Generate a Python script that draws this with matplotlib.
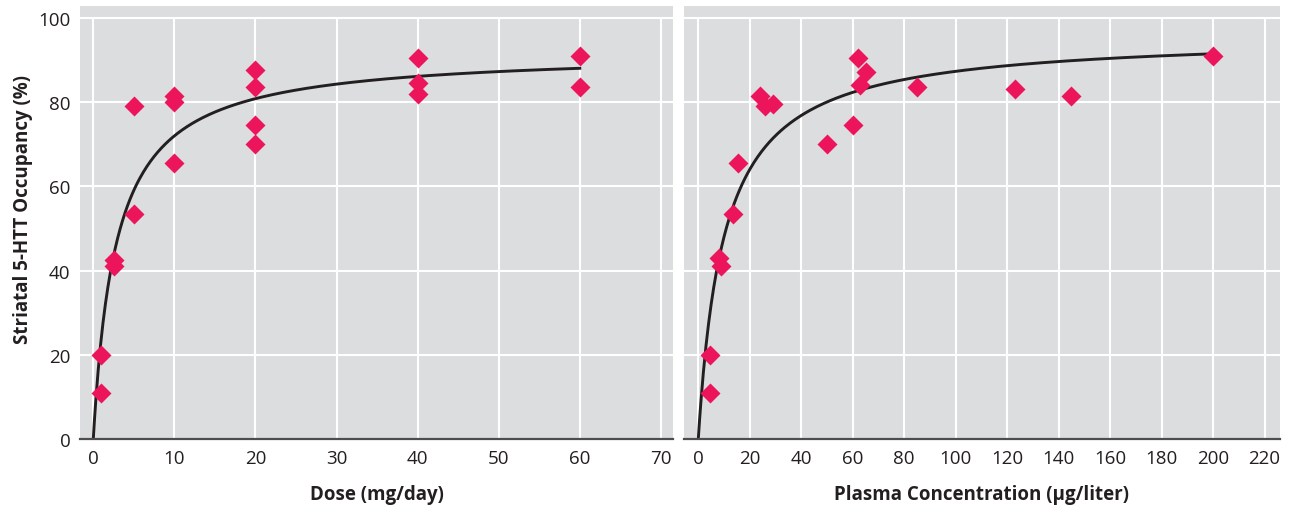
import numpy as np
import matplotlib
matplotlib.use("Agg")
from matplotlib import pyplot as plt

plt.rcParams["font.family"] = ["Open Sans", "DejaVu Sans"]

# left panel: dose vs occupancy
dose = [1, 1, 2.5, 2.5, 5, 5, 10, 10, 10, 20, 20, 20, 20, 40, 40, 40, 60, 60]
dose_occ = [20, 11, 42.5, 41, 79, 53.5, 81.5, 80, 65.5, 87.5, 83.5, 74.5, 70,
            90.5, 84.5, 82, 91, 83.5]
# right panel: plasma concentration vs occupancy
plasma = [4.5, 4.5, 8, 9, 13.5, 15.5, 24, 26, 29, 50, 60, 62, 65, 63, 85,
          123, 145, 200]
plasma_occ = [20, 11, 43, 41, 53.5, 65.5, 81.5, 79, 79.5, 70, 74.5, 90.5, 87,
              84, 83.5, 83, 81.5, 91]

# Emax model fits
dose_emax, dose_ed50, dose_max = 92.1, 2.8, 60
plasma_emax, plasma_ec50, plasma_max = 96.0, 10.0, 200

dose_ticks = [0, 10, 20, 30, 40, 50, 60, 70]
plasma_ticks = [0, 20, 40, 60, 80, 100, 120, 140, 160, 180, 200, 220]
occ_ticks = [0, 20, 40, 60, 80, 100]

bg = "#dcdddf"
pink = "#ec145a"
ink = "#231f20"

fig = plt.figure(figsize=(12.92, 5.06), dpi=100)
ax1 = fig.add_axes([0.0619, 0.130, 0.459, 0.856])
ax2 = fig.add_axes([0.5294, 0.130, 0.4613, 0.856])


def panel(ax, x, y, emax, ec50, xmax, xticks, xlim, xlabel, show_y):
    ax.set_facecolor(bg)
    ax.set_xlim(xlim)
    ax.set_ylim(0, 102.75)
    for t in occ_ticks[1:]:
        ax.axhline(t, color="white", lw=1.5, zorder=1)
    ax.vlines(xticks, 0, 100, color="white", lw=1.5, zorder=1)
    xs = np.linspace(0, xmax, 400)
    ax.plot(xs, emax * xs / (ec50 + xs), color=ink, lw=2.1, zorder=3)
    ax.plot(x, y, "D", ms=10.2, color=pink, mec="none", zorder=4,
            clip_on=False)
    for s in ["top", "right", "left"]:
        ax.spines[s].set_visible(False)
    ax.spines["bottom"].set_color("#4d4d4d")
    ax.spines["bottom"].set_linewidth(1.6)
    ax.spines["bottom"].set_zorder(5)
    ax.set_xticks(xticks)
    ax.set_yticks(occ_ticks)
    ax.tick_params(length=0, labelsize=13.5, labelcolor=ink, pad=7)
    ax.tick_params(axis="y", pad=7)
    if not show_y:
        ax.set_yticklabels([])
    ax.set_xlabel(xlabel, fontsize=13.5, fontweight="bold", color=ink,
                  labelpad=12)


panel(ax1, dose, dose_occ, dose_emax, dose_ed50, dose_max, dose_ticks,
      (-1.64, 71.5), "Dose (mg/day)", True)
panel(ax2, plasma, plasma_occ, plasma_emax, plasma_ec50, plasma_max,
      plasma_ticks, (-5.55, 226), "Plasma Concentration (\u00b5g/liter)", False)

fig.text(0.0175, 0.585, "Striatal 5-HTT Occupancy (%)", rotation=90,
         ha="center", va="center", fontsize=13.5, fontweight="bold", color=ink)

fig.savefig("out.png", dpi=100)
